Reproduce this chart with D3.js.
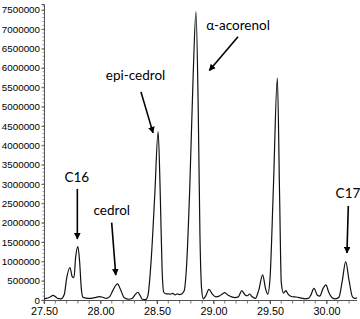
<!DOCTYPE html>
<html><head><meta charset="utf-8">
<script src="https://cdn.jsdelivr.net/npm/d3@7"></script>
<style>body{margin:0;background:#fff}svg{display:block}</style>
</head><body>
<script>
const retentionTimes = [27.50,27.52,27.55,27.58,27.60,27.62,27.65,27.68,27.70,27.73,27.75,27.765,27.78,27.80,27.815,27.83,27.845,27.87,27.90,27.93,27.96,27.99,28.02,28.05,28.08,28.11,28.15,28.18,28.21,28.25,28.28,28.31,28.33,28.35,28.37,28.40,28.42,28.45,28.48,28.51,28.53,28.545,28.56,28.58,28.60,28.62,28.64,28.66,28.68,28.70,28.72,28.74,28.76,28.79,28.82,28.845,28.865,28.88,28.895,28.91,28.93,28.96,28.99,29.02,29.05,29.08,29.10,29.13,29.16,29.19,29.22,29.25,29.28,29.30,29.32,29.34,29.37,29.40,29.435,29.46,29.48,29.50,29.53,29.565,29.585,29.60,29.62,29.64,29.66,29.69,29.72,29.75,29.78,29.81,29.84,29.86,29.89,29.92,29.94,29.97,29.995,30.02,30.05,30.08,30.11,30.14,30.17,30.20,30.23,30.25,30.27];
const intensities = [30000,40000,70000,120000,90000,40000,30000,150000,550000,840000,600000,580000,1100000,1380000,1000000,300000,70000,50000,40000,50000,70000,85000,70000,40000,80000,250000,415000,250000,60000,20000,40000,150000,200000,120000,20000,10000,120000,1100000,2700000,4350000,2600000,800000,200000,160000,160000,150000,170000,130000,160000,140000,160000,230000,800000,2900000,5800000,7450000,4900000,1700000,280000,30000,100000,275000,150000,80000,100000,160000,190000,120000,80000,60000,80000,240000,130000,110000,155000,90000,40000,250000,650000,300000,150000,550000,2900000,5735000,2700000,450000,180000,240000,150000,90000,80000,70000,50000,30000,40000,120000,300000,120000,100000,300000,390000,200000,60000,30000,70000,500000,990000,500000,80000,40000,60000];
const yTickValues = [0,500000,1000000,1500000,2000000,2500000,3000000,3500000,4000000,4500000,5000000,5500000,6000000,6500000,7000000,7500000];
const xTickValues = [27.5,28.0,28.5,29.0,29.5,30.0];
const labels = ["C16","cedrol","epi-cedrol","α-acorenol","C17"];
const labelPos = [[27.79,3052000],[28.10,2198000],[28.31,5690000],[29.217,6983000],[30.19,2638000]];
const arrowFrom = [[27.795,2870000],[28.099,1999000],[28.358,5379000],[29.217,6802000],[30.193,2431000]];
const arrowTo = [[27.795,1578000],[28.135,647000],[28.465,4319000],[28.963,5930000],[30.181,1216000]];

const W=360,H=319;
const svg=d3.select("body").append("svg").attr("width",W).attr("height",H);
const x=d3.scaleLinear().domain([27.5,30.27]).range([44,357]);
const y=d3.scaleLinear().domain([0,7650000]).range([300,4]);

svg.append("defs").append("marker").attr("id","ah").attr("viewBox","0 0 10 10")
 .attr("refX",9).attr("refY",5).attr("markerWidth",4.2).attr("markerHeight",4.2)
 .attr("orient","auto").attr("markerUnits","strokeWidth")
 .append("path").attr("d","M0,0L10,5L0,10z").attr("fill","#000");

// y axis
const yAxis=d3.axisLeft(y).tickValues(yTickValues).tickSize(2.5).tickPadding(1.5).tickFormat(d3.format("d"));
const gy=svg.append("g").attr("transform","translate(44,0)").call(yAxis);
gy.selectAll("text").attr("font-family","Liberation Sans, Arial, sans-serif").attr("font-size","9.8px").attr("fill","#000");
gy.select(".domain").attr("stroke","#555");
gy.selectAll(".tick line").attr("stroke","#555");
const yMinor=d3.range(0,7650000,100000);
svg.append("g").selectAll("line").data(yMinor).join("line")
 .attr("x1",42.5).attr("x2",44).attr("y1",d=>y(d)).attr("y2",d=>y(d)).attr("stroke","#777").attr("stroke-width",0.8);

// x axis
const xAxis=d3.axisBottom(x).tickValues(xTickValues).tickSize(4).tickPadding(3).tickFormat(d3.format(".2f"));
const gx=svg.append("g").attr("transform","translate(0,300)").call(xAxis);
gx.selectAll("text").attr("font-family","Liberation Sans, Arial, sans-serif").attr("font-size","10.8px").attr("fill","#000");
gx.select(".domain").attr("stroke","#555").attr("d","M44,0.5H357");
gx.selectAll(".tick line").attr("stroke","#555");
const xMinor=d3.range(27.5,30.27,0.1);
svg.append("g").selectAll("line").data(xMinor).join("line")
 .attr("x1",d=>x(d)).attr("x2",d=>x(d)).attr("y1",300).attr("y2",303.5).attr("stroke","#555").attr("stroke-width",0.8);

// chromatogram
const pts=retentionTimes.map((t,i)=>[t,intensities[i]]);
svg.append("path").datum(pts)
 .attr("d",d3.line().x(d=>x(d[0])).y(d=>y(d[1])).curve(d3.curveMonotoneX))
 .attr("fill","none").attr("stroke","#111").attr("stroke-width",1.2);

// annotations
labels.forEach((t,i)=>{
  svg.append("text").attr("x",x(labelPos[i][0])).attr("y",y(labelPos[i][1]))
   .attr("text-anchor","middle").attr("font-family","Lato, 'Open Sans', sans-serif")
   .attr("font-size","13.5px").attr("fill","#000").text(t);
  svg.append("line").attr("x1",x(arrowFrom[i][0])).attr("y1",y(arrowFrom[i][1]))
   .attr("x2",x(arrowTo[i][0])).attr("y2",y(arrowTo[i][1]))
   .attr("stroke","#000").attr("stroke-width",1.6).attr("marker-end","url(#ah)");
});
</script>
</body></html>
